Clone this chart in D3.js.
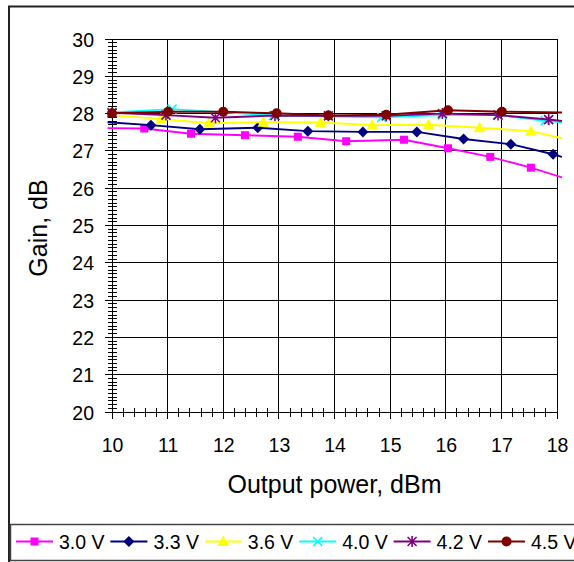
<!DOCTYPE html>
<html>
<head>
<meta charset="utf-8">
<script src="https://cdn.jsdelivr.net/npm/d3@7"></script>
<style>
  html, body { margin: 0; padding: 0; background: #fff; }
  svg { display: block; font-family: "Liberation Sans", Arial, sans-serif; }
</style>
</head>
<body>
<svg id="chart" width="574" height="562"></svg>
<script>
// ---- data ----
const seriesNames = ["3.0 V", "3.3 V", "3.6 V", "4.0 V", "4.2 V", "4.5 V"];
const xTickValues = [10, 11, 12, 13, 14, 15, 16, 17, 18];
const yTickValues = [20, 21, 22, 23, 24, 25, 26, 27, 28, 29, 30];

const gain30 = [[9.92,27.61],[10.58,27.60],[11.42,27.46],[12.39,27.42],[13.34,27.38],[14.21,27.26],[15.25,27.30],[16.04,27.07],[16.80,26.84],[17.53,26.55],[18.09,26.29]];
const gain33 = [[9.92,27.77],[10.70,27.69],[11.58,27.58],[12.62,27.62],[13.52,27.53],[14.51,27.51],[15.48,27.51],[16.32,27.32],[17.17,27.18],[17.93,26.91],[18.09,26.84]];
const gain36 = [[9.92,27.96],[10.88,27.86],[11.74,27.74],[12.72,27.77],[13.75,27.76],[14.68,27.69],[15.69,27.70],[16.61,27.62],[17.53,27.53],[18.09,27.34]];
const gain40 = [[10.0,28.03],[11.08,28.12],[12.90,27.95],[14.85,27.90],[15.94,27.96],[16.93,27.96],[17.79,27.81],[18.09,27.77]];
const gain42 = [[10.0,28.02],[10.97,27.96],[11.86,27.89],[12.93,27.95],[13.89,27.94],[14.93,27.94],[15.94,28.00],[16.94,27.96],[17.85,27.84],[18.09,27.80]];
const gain45 = [[10.0,28.01],[11.01,28.05],[12.00,28.05],[12.96,28.01],[13.89,27.95],[14.93,27.97],[16.04,28.09],[17.01,28.05],[18.09,28.03]];

const allSeries = [gain30, gain33, gain36, gain40, gain42, gain45];
const colors = ["#FF00FF", "#000080", "#FFFF00", "#00FFFF", "#800080", "#800000"];
const markers = ["square", "diamond", "triangle", "x", "star", "circle"];

// ---- layout ----
const svg = d3.select("#chart");
const L = 112, R = 557, T = 39, B = 412;
const x = d3.scaleLinear().domain([10, 18]).range([L, R]);
const y = d3.scaleLinear().domain([20, 30]).range([B, T]);
const FONT = 19.5;

// outer chart border
svg.append("rect").attr("x", 9).attr("y", 6.5).attr("width", 700).attr("height", 700)
  .attr("fill", "none").attr("stroke", "#222").attr("stroke-width", 2);

// gridlines
const grid = svg.append("g").attr("stroke", "#000").attr("stroke-width", 1).attr("shape-rendering", "crispEdges");
xTickValues.filter(v => v > 10).forEach(v => {
  grid.append("line").attr("x1", x(v)).attr("x2", x(v)).attr("y1", T).attr("y2", B);
});
yTickValues.filter(v => v > 20).forEach(v => {
  grid.append("line").attr("x1", L).attr("x2", R).attr("y1", y(v)).attr("y2", y(v));
});

// axes with crossing ticks
const axG = svg.append("g").attr("stroke", "#000").attr("stroke-width", 1).attr("shape-rendering", "crispEdges");
axG.append("line").attr("x1", L).attr("x2", L).attr("y1", T).attr("y2", B);
axG.append("line").attr("x1", L).attr("x2", R).attr("y1", B).attr("y2", B);
// y minor ticks (0.1)
d3.range(200, 301).map(v => v / 10).forEach(v => {
  const major = Math.abs(v - Math.round(v)) < 1e-6;
  axG.append("line").attr("x1", major ? L - 7 : L - 4).attr("x2", major ? L + 6 : L + 5)
    .attr("y1", y(v)).attr("y2", y(v));
});
// x minor ticks (0.2)
d3.range(50, 91).map(v => v / 5).forEach(v => {
  const major = Math.abs(v - Math.round(v)) < 1e-6;
  axG.append("line").attr("x1", x(v)).attr("x2", x(v))
    .attr("y1", major ? B - 6 : B - 4).attr("y2", major ? B + 7 : B + 5);
});

// tick labels via d3 axes (lines hidden)
const xAxis = d3.axisBottom(x).tickValues(xTickValues).tickFormat(d3.format("d")).tickSize(0).tickPadding(0);
const gx = svg.append("g").attr("transform", `translate(0,${B})`).call(xAxis);
gx.select(".domain").remove();
gx.selectAll("text").attr("font-size", FONT).attr("font-family", "Liberation Sans, Arial, sans-serif")
  .attr("fill", "#000").attr("dy", null).attr("y", 40);

const yAxis = d3.axisLeft(y).tickValues(yTickValues).tickFormat(d3.format("d")).tickSize(0).tickPadding(0);
const gy = svg.append("g").attr("transform", `translate(${L},0)`).call(yAxis);
gy.select(".domain").remove();
gy.selectAll("text").attr("font-size", FONT).attr("font-family", "Liberation Sans, Arial, sans-serif")
  .attr("fill", "#000").attr("x", -18).attr("dy", "0.36em");

// axis titles
svg.append("text").attr("x", (L + R) / 2).attr("y", 493).attr("text-anchor", "middle")
  .attr("font-size", 25).text("Output power, dBm");
svg.append("text").attr("transform", `translate(47,228) rotate(-90)`)
  .attr("text-anchor", "middle").attr("font-size", 25).text("Gain, dB");

// marker drawing
function drawMarker(g, type, color) {
  switch (type) {
    case "square":
      g.append("rect").attr("x", -4).attr("y", -4).attr("width", 8).attr("height", 8).attr("fill", color);
      break;
    case "diamond":
      g.append("path").attr("d", "M0,-5.5L5.5,0L0,5.5L-5.5,0Z").attr("fill", color);
      break;
    case "triangle":
      g.append("path").attr("d", "M0,-6L5.8,4.5L-5.8,4.5Z").attr("fill", color);
      break;
    case "x":
      g.append("path").attr("d", "M-4.5,-4.5L4.5,4.5M-4.5,4.5L4.5,-4.5").attr("stroke", color).attr("stroke-width", 1.6);
      break;
    case "star":
      g.append("path").attr("d", "M-4.5,-4.5L4.5,4.5M-4.5,4.5L4.5,-4.5M0,-5.5L0,5.5").attr("stroke", color).attr("stroke-width", 1.6);
      break;
    case "circle":
      g.append("circle").attr("r", 5).attr("fill", color);
      break;
  }
}

// clip (lines run a touch past the plot edges as in the reference)
svg.append("clipPath").attr("id", "plotclip").append("rect")
  .attr("x", 106).attr("y", T - 10).attr("width", 562 - 106).attr("height", B - T + 20);

const line = d3.line().x(d => x(d[0])).y(d => y(d[1]));
const plot = svg.append("g");
allSeries.forEach((data, i) => {
  const sg = plot.append("g");
  sg.append("path").attr("d", line(data)).attr("fill", "none")
    .attr("stroke", colors[i]).attr("stroke-width", 1.9).attr("clip-path", "url(#plotclip)");
  data.filter(d => d[0] >= 10 && d[0] <= 18).forEach(d => {
    const mg = sg.append("g").attr("transform", `translate(${x(d[0])},${y(d[1])})`);
    drawMarker(mg, markers[i], colors[i]);
  });
});

// legend
svg.append("rect").attr("x", 10.5).attr("y", 524.5).attr("width", 700).attr("height", 36)
  .attr("fill", "#fff").attr("stroke", "#444").attr("stroke-width", 1.5);
const legY = 541.5;
seriesNames.forEach((name, i) => {
  const lx = 16 + i * 94.4;
  const lg = svg.append("g");
  lg.append("line").attr("x1", lx).attr("x2", lx + 37).attr("y1", legY).attr("y2", legY)
    .attr("stroke", colors[i]).attr("stroke-width", 1.8);
  const mg = lg.append("g").attr("transform", `translate(${lx + 18.5},${legY})`);
  drawMarker(mg, markers[i], colors[i]);
  lg.append("text").attr("x", lx + 43).attr("y", legY).attr("dy", "0.36em")
    .attr("font-size", FONT).attr("fill", "#000").text(name);
});
</script>
</body>
</html>
